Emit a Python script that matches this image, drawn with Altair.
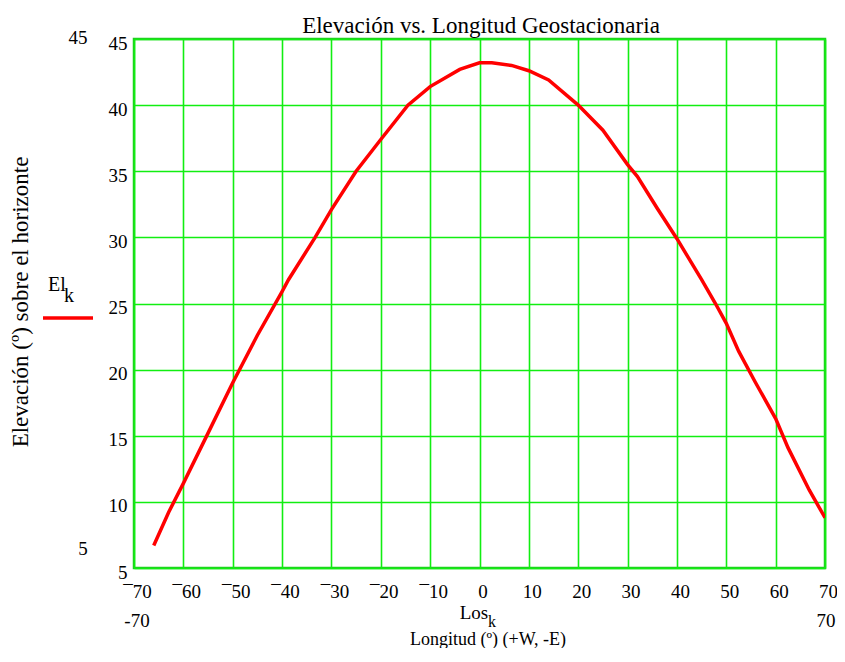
import altair as alt
import pandas as pd

# Longitud (deg) and elevation (deg)
longitud = [-66, -63, -60, -55, -50, -45, -40, -38.7, -33.3, -30, -25, -20, -14.5, -10, -4,
            0, 2.5, 6.5, 10, 14, 20, 25, 30, 32, 36, 40, 42.1, 45, 47.8, 50, 52.5, 55.8, 60, 62.5,
            66.8, 70]
elevacion = [6.7, 9.2, 11.4, 15.2, 19.0, 22.6, 25.9, 26.8, 30.0, 32.1, 35.0, 37.4, 40.0, 41.4, 42.7,
             43.2, 43.2, 43.0, 42.6, 41.9, 40.0, 38.1, 35.5, 34.6, 32.2, 29.9, 28.6, 26.8, 25.0, 23.5,
             21.4, 19.1, 16.3, 14.1, 10.9, 8.8]

x_ticks = list(range(-70, 71, 10))
y_ticks = list(range(5, 46, 5))

df = pd.DataFrame({"Los": longitud, "El": elevacion})

FONT = "Liberation Serif"
W, H = 691, 529
L = 134
T = 39

x_scale = alt.Scale(domain=[-70, 70], nice=False, zero=False)
y_scale = alt.Scale(domain=[5, 45], nice=False, zero=False)

line = alt.Chart(df).mark_line(color="#ff0000", strokeWidth=3.5, clip=True).encode(
    x=alt.X("Los:Q", scale=x_scale,
            axis=alt.Axis(values=x_ticks, title=None, grid=True, gridColor="#11ee11",
                          gridWidth=1.6, gridOpacity=1, ticks=False, domain=False,
                          labelFont=FONT, labelFontSize=19, labelColor="#000000",
                          labelPadding=14, labelOffset=3, labelFlush=False,
                          labelExpr="datum.value < 0 ? '\u00af' + (-datum.value) : '' + datum.value")),
    y=alt.Y("El:Q", scale=y_scale,
            axis=alt.Axis(values=y_ticks, title="Elevación (º) sobre el horizonte",
                          grid=True, gridColor="#11ee11", gridWidth=1.6, gridOpacity=1,
                          ticks=False, domain=False,
                          labelFont=FONT, labelFontSize=19, labelColor="#000000",
                          labelPadding=7, labelOffset=4, labelFlush=False,
                          titleFont=FONT, titleFontSize=23, titleFontWeight="normal",
                          titleColor="#000000", titleX=-114, titleY=H / 2 - 2,
                          titleAngle=-90, titleBaseline="middle", titleAlign="center")),
)

def txt(s, x, y, size=19, align="center", baseline="alphabetic"):
    return alt.Chart(pd.DataFrame({"t": [s]})).mark_text(
        font=FONT, fontSize=size, align=align, baseline=baseline, color="#000000"
    ).encode(x=alt.value(x), y=alt.value(y), text="t:N")

annots = [
    txt("Elevación vs. Longitud Geostacionaria", 481 - L, 33 - T, size=23),
    txt("45", 78 - L, 44 - T),
    txt("5", 83 - L, 555 - T),
    txt("-70", 137 - L, 627 - T),
    txt("70", 826 - L, 627 - T),
    txt("El", 57 - L, 291 - T, size=20),
    txt("k", 69 - L, 302 - T, size=20),
    txt("Los", 474 - L, 619 - T),
    txt("k", 492 - L, 627 - T, size=16),
    txt("Longitud (º) (+W, -E)", 488 - L, 645 - T, size=18),
]

legend_line = alt.Chart(pd.DataFrame({"a": [0]})).mark_rule(color="#ff0000", strokeWidth=3.5).encode(
    x=alt.value(43 - L), x2=alt.value(93 - L), y=alt.value(318 - T)
)

TOTAL_H = 640
chart = alt.layer(line, legend_line, *annots).properties(
    width=W, height=H,
    autosize=alt.AutoSizeParams(type="none"),
    padding={"left": L - 8, "top": T - 8, "right": 829 - (L - 8) - W, "bottom": TOTAL_H - (T - 8) - H},
).configure_view(stroke="#22cc22", strokeWidth=2.5)

chart.save("out.html", embed_options={"renderer": "svg", "actions": False})
